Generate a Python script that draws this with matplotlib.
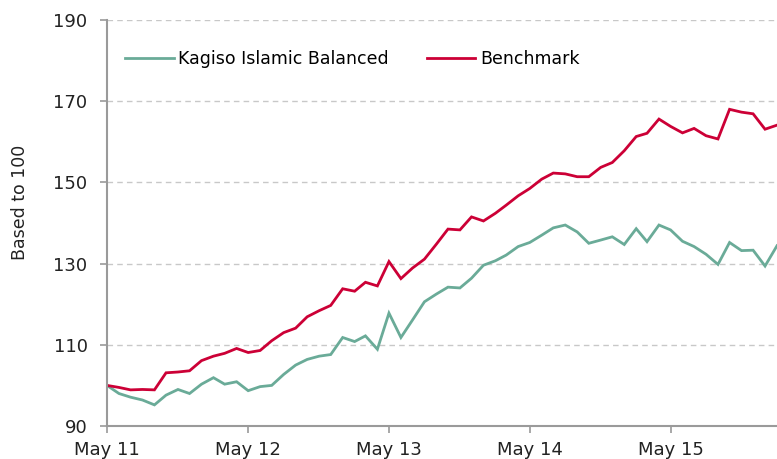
import pandas as pd
import numpy as np
import matplotlib
matplotlib.use('Agg')
import matplotlib.pyplot as plt
import matplotlib.dates as mdates

# monthly index values, based to 100 in May 2011
fund = [100.0, 98.0, 97.1, 96.4, 95.2, 97.6, 99.0, 98.0, 100.3, 101.9,
        100.3, 100.9, 98.7, 99.7, 100.0, 102.7, 105.0, 106.4, 107.2, 107.6,
        111.8, 110.8, 112.2, 108.9, 117.8, 111.8, 116.1, 120.6, 122.5, 124.2,
        124.0, 126.4, 129.6, 130.7, 132.1, 134.2, 135.2, 137.0, 138.8, 139.5,
        137.8, 135.0, 135.8, 136.6, 134.7, 138.6, 135.4, 139.5, 138.3, 135.5,
        134.2, 132.3, 129.8, 135.2, 133.2, 133.3, 129.4, 134.4]
benchmark = [100.0, 99.5, 98.9, 99.0, 98.9, 103.1, 103.3, 103.6, 106.1, 107.2,
             107.9, 109.1, 108.1, 108.6, 111.0, 113.0, 114.1, 116.9, 118.4, 119.7,
             123.8, 123.2, 125.4, 124.5, 130.5, 126.3, 128.9, 131.1, 134.8, 138.5,
             138.3, 141.5, 140.5, 142.4, 144.4, 146.7, 148.5, 150.8, 152.3, 152.1,
             151.4, 151.4, 153.7, 154.9, 157.8, 161.3, 162.1, 165.6, 163.8, 162.2,
             163.3, 161.5, 160.7, 168.0, 167.3, 166.9, 163.1, 164.1]
series_names = ['Kagiso Islamic Balanced', 'Benchmark']
y_ticks = [90, 110, 130, 150, 170, 190]
x_tick_labels = ['May 11', 'May 12', 'May 13', 'May 14', 'May 15']

dates = pd.date_range('2011-05-01', periods=len(fund), freq='MS')
tick_dates = pd.date_range('2011-05-01', periods=len(x_tick_labels), freq='12MS')

green = '#6aab98'
red = '#cc0036'
axis_grey = '#9a9a9a'

fig = plt.figure(figsize=(7.77, 4.59), dpi=100)
ax = fig.add_axes([107 / 777, 1 - 426 / 459, 1 - 107 / 777, 406 / 459])

ax.plot(dates, fund, color=green, lw=2.0, label=series_names[0], solid_joinstyle='miter')
ax.plot(dates, benchmark, color=red, lw=2.0, label=series_names[1], solid_joinstyle='miter')

ax.set_ylim(90, 190)
ax.set_yticks(y_ticks)
ax.set_xlim(dates[0], dates[-1])
ax.set_xticks(tick_dates)
ax.set_xticklabels(x_tick_labels)

ax.grid(axis='y', color='#c8c8c8', linestyle=(0, (4, 3)), lw=1.0)
ax.set_axisbelow(True)

for side in ['top', 'right']:
    ax.spines[side].set_visible(False)
for side in ['left', 'bottom']:
    ax.spines[side].set_color(axis_grey)
    ax.spines[side].set_linewidth(1.5)

ax.tick_params(axis='both', colors=axis_grey, labelcolor='#222222',
               labelsize=13, length=5, width=1.2, direction='out')
ax.tick_params(axis='y', pad=9)
ax.tick_params(axis='x', pad=6)

ax.set_ylabel('Based to 100', fontsize=12.5, color='#222222')
ax.yaxis.set_label_coords(-0.117, 0.55)

ax.legend(loc='center left', bbox_to_anchor=(0.027, 0.904), ncol=2, frameon=False,
          fontsize=12.5, handlelength=2.8, handletextpad=0.25, columnspacing=2.2,
          borderpad=0, borderaxespad=0)

fig.savefig('out.png', dpi=100)
